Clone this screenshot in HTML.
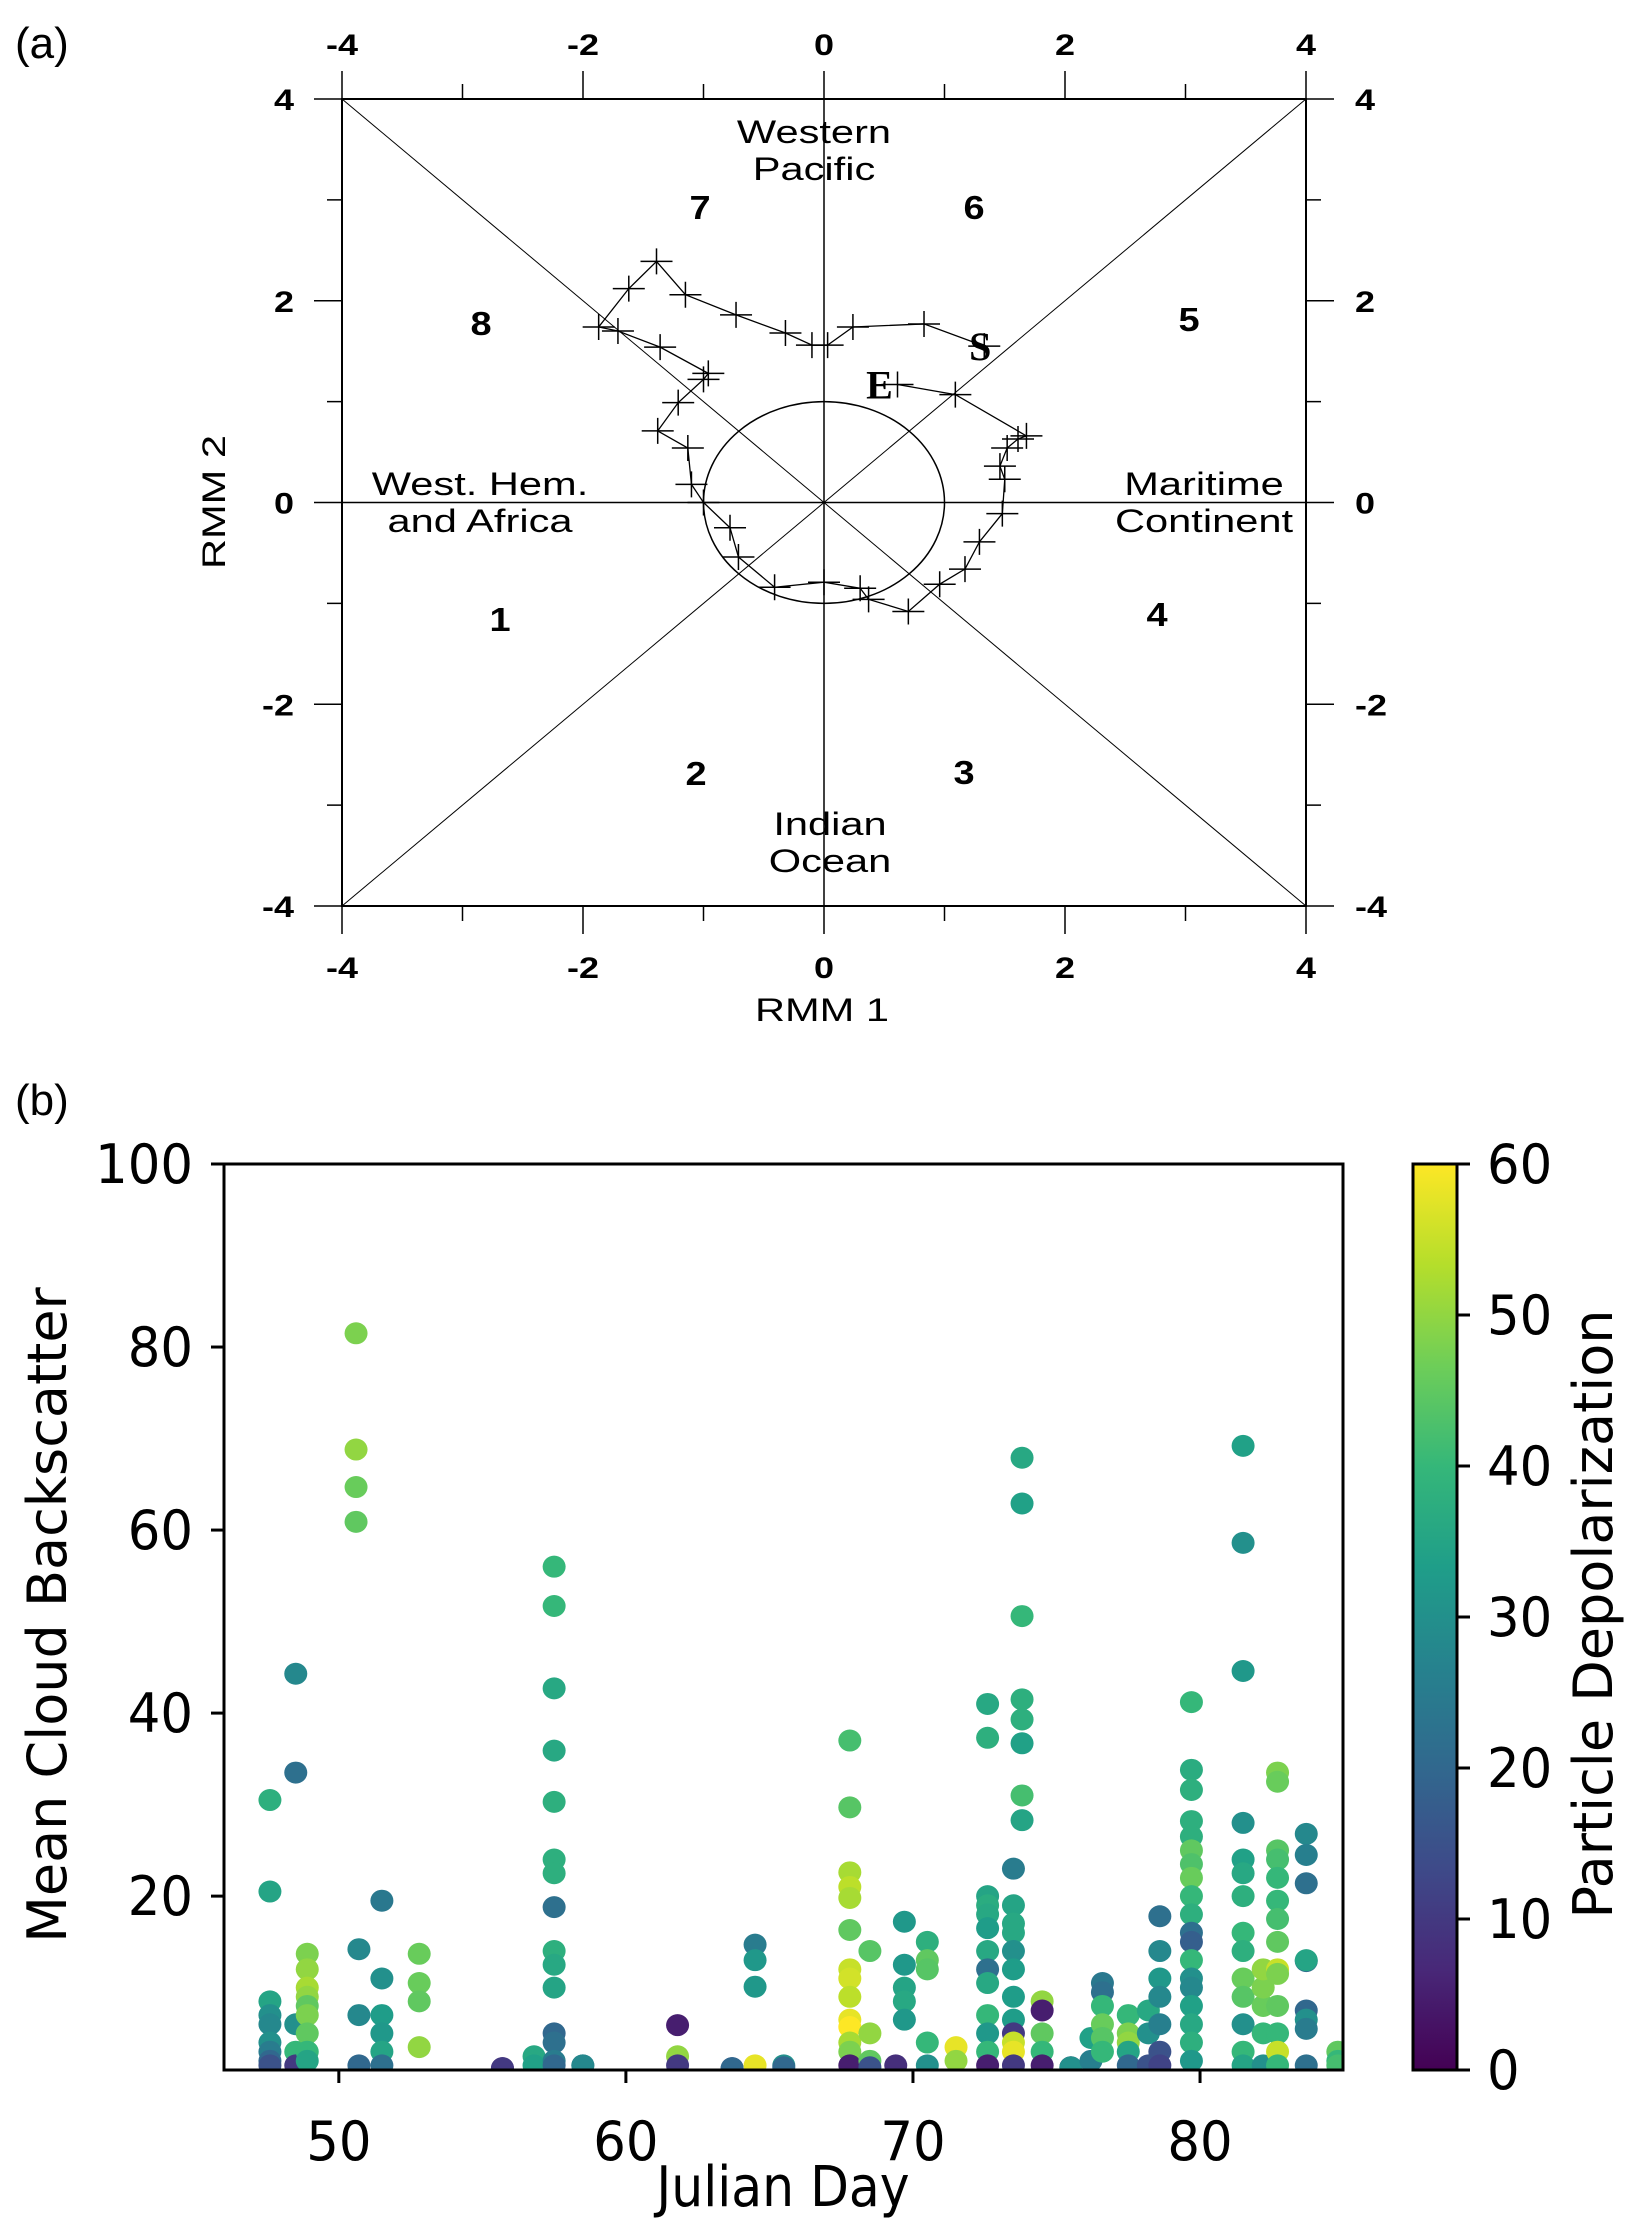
<!DOCTYPE html>
<html><head><meta charset="utf-8">
<style>
html,body{margin:0;padding:0;background:#fff;}
svg{display:block;}
.a{font-family:"Liberation Sans",Arial,sans-serif;}
.b{font-family:"DejaVu Sans","Liberation Sans",sans-serif;}
</style></head>
<body>
<svg id="fig" width="1643" height="2236" viewBox="0 0 1643 2236" xmlns="http://www.w3.org/2000/svg">
<text class="a" x="15" y="58" font-size="44">(a)</text>
<text class="a" x="15" y="1115" font-size="44">(b)</text>
<g id="pa"></g>
<g id="pb"></g>
</svg>
<script>
// ---------- Panel (a) data: MJO RMM trajectory ----------
const rmm1 = [1.33,0.83,0.24,0.03,-0.10,-0.32,-0.73,-1.15,-1.39,-1.62,-1.87,-1.71,-1.36,-0.96,-1.00,-1.21,-1.38,-1.13,-1.10,-1.00,-0.78,-0.71,-0.41,0.00,0.30,0.37,0.70,0.96,1.17,1.29,1.48,1.50,1.46,1.52,1.61,1.68,1.09,0.61];
const rmm2 = [1.55,1.77,1.74,1.56,1.56,1.68,1.86,2.06,2.39,2.12,1.74,1.70,1.54,1.28,1.22,0.99,0.71,0.54,0.18,0.00,-0.25,-0.54,-0.84,-0.79,-0.85,-0.96,-1.08,-0.81,-0.66,-0.39,-0.11,0.23,0.36,0.54,0.63,0.66,1.07,1.17];
const rmmTicks = [-4,-2,0,2,4];

// ---------- Panel (b) data ----------
const days = [];
const backscatter = [];
const depol = [];
const groups = [
 [47.6,[[30.5,38],[20.5,35],[8.5,35],[7,30],[6,28],[4,30],[3,25],[2,20],[1.5,15]]],
 [48.5,[[44.3,28],[33.5,22],[6,30],[3,40],[1.5,10]]],
 [48.9,[[13.7,48],[12,50],[10,52],[9,50],[8,45],[7,48],[5,45],[3,40],[2,35]]],
 [50.6,[[81.5,48],[68.8,50],[64.7,46],[60.9,45]]],
 [50.7,[[14.2,28],[7,28],[1.5,20]]],
 [51.5,[[19.5,24],[11,30],[7,33],[5,32],[3,35],[1.5,22]]],
 [52.8,[[13.7,46],[10.5,46],[8.5,45],[3.5,50]]],
 [55.7,[[1.2,5],[1.2,10]]],
 [56.8,[[2.5,36],[1.5,34]]],
 [57.5,[[56,40],[51.7,40],[42.7,36],[35.9,36],[30.3,38],[24,38],[22.5,38],[14,38],[12.5,36],[10,35],[18.8,22],[5,20],[4,22],[2,25],[1.5,20]]],
 [58.5,[[1.5,22],[1.5,28]]],
 [61.8,[[5.9,5],[2.5,50],[1.5,10]]],
 [63.7,[[1.2,15],[1.2,20]]],
 [64.5,[[14.7,25],[13,32],[10.1,32],[1.5,58]]],
 [65.5,[[1.5,30],[1.3,20]]],
 [67.8,[[37,42],[29.7,44],[22.6,52],[21,54],[19.8,52],[16.3,45],[12,55],[11,56],[9,54],[6.5,58],[5.7,60],[4,52],[3,48],[1.5,5]]],
 [68.5,[[14,44],[5,50],[2,45],[1.3,15]]],
 [69.4,[[1.5,8]]],
 [69.7,[[17.2,32],[12.5,32],[10,35],[8.5,36],[6.5,32]]],
 [70.5,[[15,38],[13,45],[12,44],[4,40],[1.5,30]]],
 [71.5,[[3.5,58],[2,50]]],
 [72.6,[[41,36],[37.3,38],[20,35],[19,37],[18,36],[16.5,33],[14,36],[12,22],[10.5,36],[7,40],[5,32],[3,40],[1.5,5]]],
 [73.5,[[23,25],[19,35],[17,36],[16,36],[14,30],[12,33],[9,33],[6.5,33],[5,10],[4,55],[3,58],[1.5,10]]],
 [73.8,[[67.9,36],[62.9,34],[50.6,40],[41.5,38],[39.3,38],[36.7,34],[31,42],[28.3,35]]],
 [74.5,[[8.5,50],[7.5,5],[5,45],[3,40],[1.5,5]]],
 [75.5,[[1.3,5],[1.3,30]]],
 [76.2,[[4.5,34],[2,26]]],
 [76.6,[[10.5,24],[9.5,22],[8,40],[6,46],[4.5,44],[3,40]]],
 [77.5,[[7,40],[5,48],[4,50],[3,35],[1.5,20]]],
 [78.2,[[7.5,36],[5,30],[1.5,15]]],
 [78.6,[[17.8,22],[14,28],[11,32],[9,28],[6,26],[3,15],[1.5,12]]],
 [79.7,[[41.2,40],[33.8,37],[31.6,38],[28.2,38],[26.5,38],[25,45],[23.5,43],[22,46],[20,40],[18,38],[16,22],[15,18],[13,40],[11,30],[10,28],[8,34],[6,36],[4,38],[2,32]]],
 [81.5,[[69.2,34],[58.6,30],[44.6,32],[28,30],[24,34],[22.5,36],[20,38],[16,40],[14,38],[11,46],[9,44],[6,30],[3,40],[1.5,35]]],
 [82.2,[[1.5,30],[5,40],[8,46],[10,48],[12,50]]],
 [82.7,[[33.5,48],[32.5,46],[25,44],[24,42],[22,40],[19.5,40],[17.5,42],[15,45],[12,55],[11.5,48],[8,45],[5,40],[3,55],[1.5,40]]],
 [83.7,[[26.8,28],[24.5,26],[21.4,22],[12.9,22],[13,35],[7.5,20],[6.5,30],[5.5,25],[1.5,22]]],
 [84.8,[[3,45],[2,40],[1.5,42]]]
];
groups.forEach(g=>g[1].forEach(p=>{days.push(g[0]);backscatter.push(p[0]);depol.push(p[1]);}));
const xTicks = [50,60,70,80];
const yTicks = [20,40,60,80,100];
const cbTicks = [0,10,20,30,40,50,60];

const NS='http://www.w3.org/2000/svg';
function mk(parent,tag,attrs,text){const e=document.createElementNS(NS,tag);for(const k in attrs)e.setAttribute(k,attrs[k]);if(text!==undefined)e.textContent=text;parent.appendChild(e);return e;}
function tx(parent,x,y,str,size,opts){
  const o=opts||{};
  const sx=o.sx||1;
  const a={class:o.cls||'a',x:0,y:0,'font-size':size,transform:`translate(${x},${y}) scale(${sx},1)`};
  if(o.anchor)a['text-anchor']=o.anchor;
  if(o.bold)a['font-weight']='bold';
  return mk(parent,'text',a,str);
}

// ---------- Panel (a) ----------
const pa=document.getElementById('pa');
const AX0=342,AX1=1306,AY0=99,AY1=906;
const ax=v=>AX0+(v+4)/8*(AX1-AX0);
const ay=v=>AY1-(v+4)/8*(AY1-AY0);
let e;
e=mk(pa,'rect',{x:AX0,y:AY0,width:AX1-AX0,height:AY1-AY0,fill:'none',stroke:'#000','stroke-width':2});

e=mk(pa,'line',{x1:ax(-4),y1:ay(0),x2:ax(4),y2:ay(0),stroke:'#000','stroke-width':1.5});

e=mk(pa,'line',{x1:ax(0),y1:ay(-4),x2:ax(0),y2:ay(4),stroke:'#000','stroke-width':1.5});

e=mk(pa,'line',{x1:ax(-4),y1:ay(4),x2:ax(4),y2:ay(-4),stroke:'#000','stroke-width':1});

e=mk(pa,'line',{x1:ax(-4),y1:ay(-4),x2:ax(4),y2:ay(4),stroke:'#000','stroke-width':1});

e=mk(pa,'ellipse',{cx:ax(0),cy:ay(0),rx:ax(1)-ax(0),ry:ay(0)-ay(1),fill:'none',stroke:'#000','stroke-width':1.5});

for(let v=-4;v<=4;v++){
  const L=(v%2===0)?28:15;
  mk(pa,'line',{x1:ax(v),y1:AY0,x2:ax(v),y2:AY0-L,stroke:'#000','stroke-width':1.5});
  mk(pa,'line',{x1:ax(v),y1:AY1,x2:ax(v),y2:AY1+L,stroke:'#000','stroke-width':1.5});
  mk(pa,'line',{x1:AX0,y1:ay(v),x2:AX0-L,y2:ay(v),stroke:'#000','stroke-width':1.5});
  mk(pa,'line',{x1:AX1,y1:ay(v),x2:AX1+L,y2:ay(v),stroke:'#000','stroke-width':1.5});
}
rmmTicks.forEach(v=>{
  e=tx(pa,ax(v),55,String(v),30,{bold:true,anchor:'middle',sx:1.2});
  
  e=tx(pa,ax(v),978,String(v),30,{bold:true,anchor:'middle',sx:1.2});
  
  e=tx(pa,294,ay(v)+11,String(v),30,{bold:true,anchor:'end',sx:1.2});
  
  e=tx(pa,1355,ay(v)+11,String(v),30,{bold:true,anchor:'start',sx:1.2});
  
});
e=tx(pa,822,1021,'RMM 1',32,{anchor:'middle',sx:1.3});

e=mk(pa,'text',{class:'a',x:0,y:0,'font-size':32,'text-anchor':'middle',transform:'translate(225,502) rotate(-90) scale(1.3,1)'},'RMM 2');

const regionTexts=[['Western',814,143],['Pacific',814,180],['West. Hem.',480,495],['and Africa',480,532],['Maritime',1204,495],['Continent',1204,532],['Indian',830,835],['Ocean',830,872]];
regionTexts.forEach(r=>{e=tx(pa,r[1],r[2],r[0],32,{anchor:'middle',sx:1.3});
  });
const phaseNums=[['7',700,219],['6',974,219],['8',481,335],['5',1189,331],['1',500,631],['4',1157,626],['2',696,785],['3',964,784]];
phaseNums.forEach(r=>{e=tx(pa,r[1],r[2],r[0],33,{anchor:'middle',bold:true,sx:1.15});
  });
let pts=rmm1.map((v,i)=>ax(v)+','+ay(rmm2[i])).join(' ');
e=mk(pa,'polyline',{points:pts,fill:'none',stroke:'#000','stroke-width':1.3});

rmm1.forEach((v,i)=>{
  const x=ax(v),y=ay(rmm2[i]);
  e=mk(pa,'path',{d:`M${x-16},${y}H${x+16}M${x},${y-13}V${y+13}`,stroke:'#000','stroke-width':1.5,fill:'none'});
  
});
e=mk(pa,'text',{x:ax(rmm1[0])-4,y:ay(rmm2[0])+14,'font-size':40,'font-weight':'bold','font-family':'"Liberation Serif",serif','text-anchor':'middle'},'S');

e=mk(pa,'text',{x:ax(rmm1[rmm1.length-1])-18,y:ay(rmm2[rmm2.length-1])+14,'font-size':40,'font-weight':'bold','font-family':'"Liberation Serif",serif','text-anchor':'middle'},'E');


// ---------- Panel (b) ----------
const pb=document.getElementById('pb');
const BX0=224,BX1=1343,BY0=1164,BY1=2070;
const XMIN=46.0,XMAX=84.98,YMIN=1.0,YMAX=100;
const bx=v=>BX0+(v-XMIN)/(XMAX-XMIN)*(BX1-BX0);
const by=v=>BY1-(v-YMIN)/(YMAX-YMIN)*(BY1-BY0);
const vir=[[68,1,84],[72,40,120],[62,74,137],[49,104,142],[38,130,142],[31,158,137],[53,183,121],[110,206,88],[181,222,43],[253,231,37]];
function viridis(t){t=Math.max(0,Math.min(1,t));const s=t*(vir.length-1);const i=Math.min(Math.floor(s),vir.length-2);const f=s-i;
  const c=vir[i].map((a,k)=>Math.round(a+(vir[i+1][k]-a)*f));return `rgb(${c[0]},${c[1]},${c[2]})`;}
const defs=mk(pb,'defs',{});
const clip=mk(defs,'clipPath',{id:'cb'});
mk(clip,'rect',{x:BX0,y:BY0,width:BX1-BX0,height:BY1-BY0});
const dotsG=mk(pb,'g',{'clip-path':'url(#cb)'});


days.forEach((d,i)=>{
  const c=mk(dotsG,'ellipse',{cx:bx(d),cy:by(backscatter[i]),rx:11.5,ry:11,fill:viridis(depol[i]/60)});
  
  
});
e=mk(pb,'rect',{x:BX0,y:BY0,width:BX1-BX0,height:BY1-BY0,fill:'none',stroke:'#000','stroke-width':3});

xTicks.forEach(v=>{
  mk(pb,'line',{x1:bx(v),y1:BY1,x2:bx(v),y2:BY1+13,stroke:'#000','stroke-width':3});
  e=tx(pb,bx(v),2160,String(v),54,{cls:'b',anchor:'middle',sx:0.95});
  
});
yTicks.forEach(v=>{
  mk(pb,'line',{x1:BX0,y1:by(v),x2:BX0-13,y2:by(v),stroke:'#000','stroke-width':3});
  e=tx(pb,193,by(v)+19,String(v),54,{cls:'b',anchor:'end',sx:0.95});
  
});
e=tx(pb,783,2206,'Julian Day',56,{cls:'b',anchor:'middle',sx:0.9});

e=mk(pb,'text',{class:'b',x:0,y:0,'font-size':54,'text-anchor':'middle',transform:'translate(66,1615) rotate(-90)'},'Mean Cloud Backscatter');

// colorbar
const CX0=1413,CX1=1457;
const grad=mk(defs,'linearGradient',{id:'vg',x1:0,y1:1,x2:0,y2:0});
vir.forEach((c,i)=>mk(grad,'stop',{offset:i/(vir.length-1),'stop-color':`rgb(${c[0]},${c[1]},${c[2]})`}));
e=mk(pb,'rect',{x:CX0,y:BY0,width:CX1-CX0,height:BY1-BY0,fill:'url(#vg)',stroke:'#000','stroke-width':3});

const cy=v=>BY1-v/60*(BY1-BY0);
cbTicks.forEach(v=>{
  mk(pb,'line',{x1:CX1,y1:cy(v),x2:CX1+13,y2:cy(v),stroke:'#000','stroke-width':3});
  e=tx(pb,1487,cy(v)+19,String(v),54,{cls:'b',sx:0.95});
  
});
e=mk(pb,'text',{class:'b',x:0,y:0,'font-size':54,'text-anchor':'middle',transform:'translate(1612,1614) rotate(-90)'},'Particle Depolarization');

</script>
</body></html>
